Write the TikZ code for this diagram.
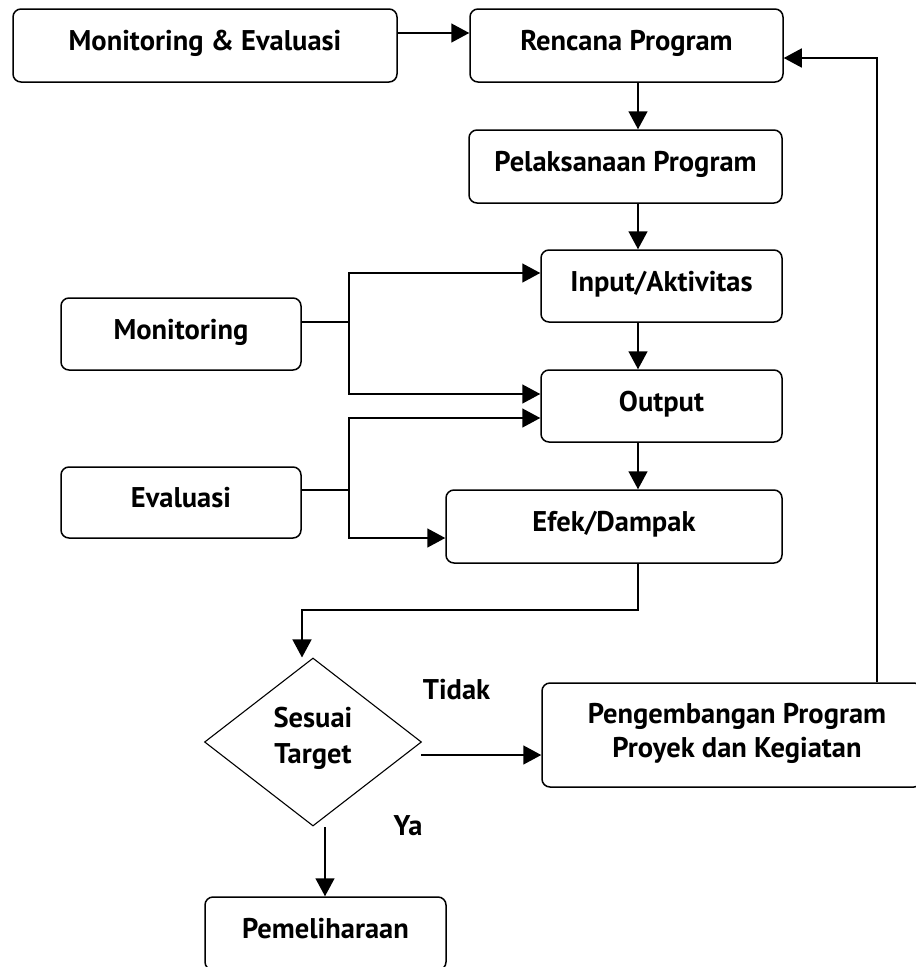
\documentclass[tikz,border=0pt]{standalone}
\usepackage{fontspec}
\setmainfont{PT Sans}
\usetikzlibrary{arrows.meta,shapes.geometric}
\newcommand\myfnt{\fontsize{28.5}{36}\selectfont\bfseries}
\begin{document}
\begin{tikzpicture}[x=1pt,y=-1pt,
  base/.style={draw=black,line width=1.5pt,rounded corners=8pt,inner sep=0pt,font=\myfnt},
  box/.style={base,text height=15pt,text depth=5pt},
  dia/.style={draw=black,shape=diamond,line width=1.1pt,inner sep=0pt,minimum width=217pt,minimum height=168pt,align=center,font=\myfnt},
  lbl/.style={inner sep=0pt,font=\myfnt},
  ln/.style={line width=1.5pt},
  arr/.style={line width=1.5pt,-{Triangle[length=18pt,width=19pt]}}]
\useasboundingbox (0,0) rectangle (916,967);
\fill[white] (0,0) rectangle (916,967);
% nodes
\node[box,minimum width=384pt,minimum height=73pt] (me) at (205,45.5) {Monitoring \& Evaluasi};
\node[box,minimum width=313pt,minimum height=73pt] (rp) at (626.5,45.5) {Rencana Program};
\node[box,minimum width=313pt,minimum height=73pt] (pp) at (625.5,166.5) {Pelaksanaan Program};
\node[box,minimum width=241pt,minimum height=72pt] (ia) at (661.5,286) {Input/Aktivitas};
\node[box,minimum width=241pt,minimum height=72pt] (out) at (661.5,406) {Output};
\node[box,minimum width=336pt,minimum height=73pt] (ed) at (614,526.5) {Efek/Dampak};
\node[box,minimum width=240pt,minimum height=72pt] (mon) at (181,334) {Monitoring};
\node[box,minimum width=240pt,minimum height=71pt] (ev) at (181,502.5) {Evaluasi};
\node[dia] (dia) at (313,742) {\rule{0pt}{22pt}Sesuai\\Target\rule[-16pt]{0pt}{16pt}};
\node[base,align=center,minimum width=380pt,minimum height=104pt,font=\fontsize{28.5}{34}\selectfont\bfseries] (peng) at (732,735)
  {\rule{0pt}{24pt}\hspace{10pt}Pengembangan Program\\\hspace{10pt}Proyek dan Kegiatan\rule[-14pt]{0pt}{14pt}};
\node[box,minimum width=241pt,minimum height=73pt] (pem) at (325.5,933.5) {Pemeliharaan};
\node[lbl,anchor=base] (tidak) at (456.5,699) {Tidak};
\node[lbl,anchor=base] (ya) at (408,835) {Ya};
% helper coordinates
\coordinate (cx) at (638,0);
\coordinate (fx) at (877,0);
\coordinate (y33) at (0,33);
\coordinate (y58) at (0,58);
\coordinate (jm) at (349,322);
\coordinate (je) at (349,490);
\coordinate (b1) at (302,610);
\coordinate (t1) at (421,755);
\coordinate (t2) at (325,827);
% connectors
\draw[arr] (me.east |- y33) -- (rp.west |- y33);
\draw[arr] (rp.south -| cx) -- (pp.north -| cx);
\draw[arr] (pp.south -| cx) -- (ia.north -| cx);
\draw[arr] (ia.south -| cx) -- (out.north -| cx);
\draw[arr] (out.south -| cx) -- (ed.north -| cx);
\draw[ln] (mon.east |- jm) -- (jm);
\draw[arr] (jm) |- ([yshift=13pt]ia.west);
\draw[arr] (jm) |- ([yshift=12pt]out.west);
\draw[ln] (ev.east |- je) -- (je);
\draw[arr] (je) |- ([yshift=-12pt]out.west);
\draw[arr] (je) |- ([yshift=-11.5pt]ed.west);
\draw[arr] (ed.south -| cx) |- (b1) -- (b1 |- dia.north);
\draw[arr] (t1) -- (peng.west |- t1);
\draw[arr] (t2) -- (t2 |- pem.north);
\draw[arr] (peng.north -| fx) |- (rp.east |- y58);
\end{tikzpicture}
\end{document}
